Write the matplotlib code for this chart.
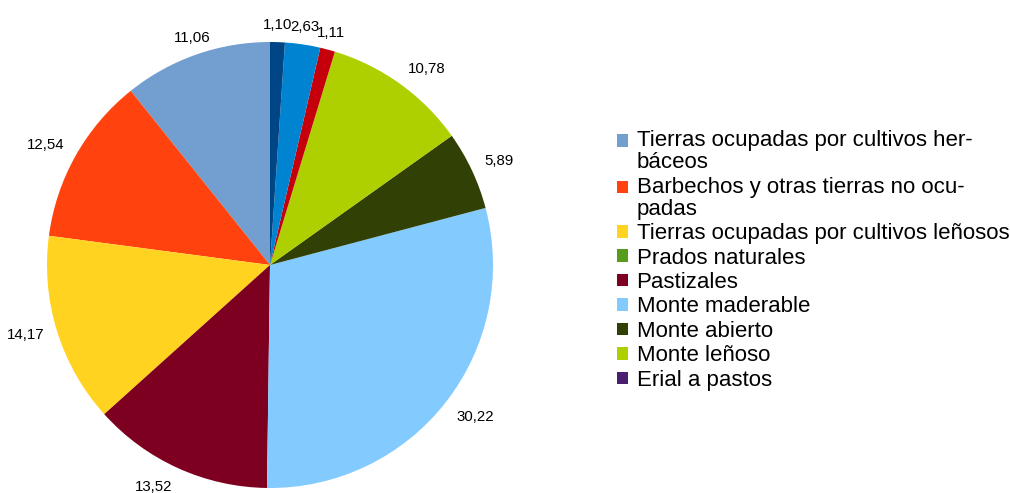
import matplotlib
matplotlib.use("Agg")
import numpy as np
import matplotlib.pyplot as plt
from matplotlib.patches import Patch

plt.rcParams['font.family'] = ['Liberation Sans', 'DejaVu Sans']

# categorías de la leyenda (orden de la serie)
categorias = [
    "Tierras ocupadas por cultivos her-\nbáceos",
    "Barbechos y otras tierras no ocu-\npadas",
    "Tierras ocupadas por cultivos leñosos",
    "Prados naturales",
    "Pastizales",
    "Monte maderable",
    "Monte abierto",
    "Monte leñoso",
    "Erial a pastos",
]
valores = [11.06, 12.54, 14.17, 0.0, 13.52, 30.22, 5.89, 10.78, 0.0]
colores = ["#729fcf", "#ff420e", "#ffd320", "#579d1c", "#7e0021",
           "#83caff", "#314004", "#aecf00", "#4b1f6f"]

# porciones sin entrada en la leyenda
extra_valores = [0.0, 1.11, 2.63, 1.10]
extra_colores = ["#ff950e", "#c5000b", "#0084d1", "#004586"]

todos_v = valores + extra_valores
todos_c = colores + extra_colores
pie_v = [v for v in todos_v if v > 0]
pie_c = [c for v, c in zip(todos_v, todos_c) if v > 0]
pie_l = [f"{v:.2f}".replace('.', ',') for v in pie_v]

W, H = 1010, 493
fig = plt.figure(figsize=(W / 100, H / 100), dpi=100)

cx, cy, r = 270, 265, 223
side = 2.5 * r
ax = fig.add_axes([(cx - side / 2) / W, (H - cy - side / 2) / H, side / W, side / H])
wedges, texts = ax.pie(pie_v, labels=pie_l, colors=pie_c, startangle=90,
                       counterclock=True, labeldistance=1.06,
                       textprops={'fontsize': 10.8, 'color': '#000000'},
                       wedgeprops={'linewidth': 0})

# anclaje de etiquetas al estilo LibreOffice (según octante)
anclas = [('center', 'baseline'), ('left', 'baseline'), ('left', 'center'),
          ('left', 'top'), ('center', 'top'), ('right', 'top'),
          ('right', 'center'), ('right', 'baseline')]
for w, t in zip(wedges, texts):
    theta = (w.theta1 + w.theta2) / 2
    a = (90 - theta) % 360
    k = int(np.round(a / 45)) % 8
    ha, va = anclas[k]
    t.set_horizontalalignment(ha)
    t.set_verticalalignment(va)
    d = 1.06
    t.set_position((d * np.cos(np.radians(theta)), d * np.sin(np.radians(theta))))

ax.set_xlim(-1.25, 1.25)
ax.set_ylim(-1.25, 1.25)
ax.set_aspect('auto')
ax.axis('off')

handles = [Patch(facecolor=c, edgecolor='none') for c in colores]
leg = fig.legend(handles, categorias, loc='upper left',
                 bbox_to_anchor=(617 / W, 1 - 130 / H), frameon=False,
                 fontsize=16, borderpad=0, borderaxespad=0,
                 handlelength=0.5, handleheight=0.5, handletextpad=0.38,
                 labelspacing=0.155)
for t, h in zip(leg.get_texts(), leg.legend_handles):
    if "\n" in t.get_text():
        t.set_linespacing(1.07)
        h.set_y(h.get_y() + 8)

fig.savefig("out.png", dpi=100)
